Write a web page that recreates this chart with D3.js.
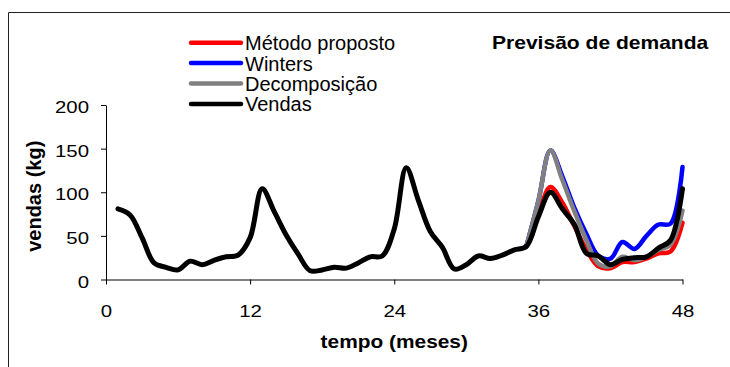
<!DOCTYPE html>
<html>
<head>
<meta charset="utf-8">
<script src="https://cdn.jsdelivr.net/npm/d3@7"></script>
<style>
  html, body { margin: 0; padding: 0; background: #fff; }
  svg { display: block; }
  text { font-family: "Liberation Sans", Arial, sans-serif; fill: #000; }
</style>
</head>
<body>
<svg id="chart" width="730" height="367"></svg>
<script>
// Monthly sales (kg) for months 1..48
const months = d3.range(1, 49);
const vendas = [81, 74, 48, 19, 14, 11, 21, 17, 22, 26, 28, 48, 104, 78, 51, 29,
                10, 11, 14, 13, 19, 26, 27, 58, 128, 91, 55, 37, 12, 17, 27, 24,
                28, 34, 38, 72, 100, 81, 63, 30, 27, 17, 23, 25, 26, 36, 45, 104];

// Forecasts over the last stretch (months 35..48)
const forecastMonths = d3.range(35, 49);
const metodoProposto = [38, 75, 106, 88, 61, 34, 15, 13, 20, 20, 24, 30, 32, 65];
const winters        = [38, 90, 148, 118, 82, 52, 27, 24, 43, 35, 50, 63, 64, 129];
const decomposicao   = [38, 90, 148, 114, 78, 45, 18, 15, 26, 22, 26, 34, 40, 79];

const xTicks = [0, 12, 24, 36, 48];
const yTicks = [0, 50, 100, 150, 200];

const seriesNames = ["Método proposto", "Winters", "Decomposição", "Vendas"];
const seriesColors = ["#ff0000", "#0000ff", "#808080", "#000000"];

const svg = d3.select("#chart");

// outer frame (left and top edges visible)
svg.append("path")
  .attr("d", "M8.5,380 V12.5 H740")
  .attr("fill", "none")
  .attr("stroke", "#222")
  .attr("stroke-width", 1);

const x = d3.scaleLinear().domain([0, 48]).range([106, 682.5]);
const y = d3.scaleLinear().domain([0, 200]).range([279.5, 105]);

// axes (tick labels drawn slightly widened)
const tickFont = 17, tickStretch = 1.2;
const yAxis = d3.axisLeft(y).tickValues(yTicks).tickSize(5).tickSizeOuter(0);
const xAxis = d3.axisBottom(x).tickValues(xTicks).tickSize(5).tickSizeOuter(0);

const gy = svg.append("g").attr("transform", `translate(${x(0)},0)`).call(yAxis);
const gx = svg.append("g").attr("transform", `translate(0,${y(0)})`).call(xAxis);
[gx, gy].forEach(g => {
  g.select(".domain").attr("stroke", "#000");
  g.selectAll(".tick line").attr("stroke", "#000");
  g.selectAll(".tick text")
    .attr("font-family", "Liberation Sans, Arial, sans-serif")
    .attr("font-size", tickFont)
    .attr("fill", "#000")
    .attr("x", 0)
    .attr("y", 0);
});
gy.selectAll(".tick text")
  .attr("dy", null)
  .attr("transform", `translate(-17,7.5) scale(${tickStretch},1)`);
gx.selectAll(".tick text")
  .attr("dy", null)
  .attr("transform", `translate(0,37) scale(${tickStretch},1)`);

// series lines
const line = d3.line()
  .x(d => x(d[0]))
  .y(d => y(d[1]))
  .curve(d3.curveCatmullRom.alpha(0.5));

const seriesData = [
  forecastMonths.map((m, i) => [m, metodoProposto[i]]),
  forecastMonths.map((m, i) => [m, winters[i]]),
  forecastMonths.map((m, i) => [m, decomposicao[i]]),
  months.map((m, i) => [m, vendas[i]])
];
const widths = [4.5, 4.5, 4.5, 5];

seriesData.forEach((data, i) => {
  svg.append("path")
    .datum(data)
    .attr("d", line)
    .attr("fill", "none")
    .attr("stroke", seriesColors[i])
    .attr("stroke-width", widths[i])
    .attr("stroke-linejoin", "round")
    .attr("stroke-linecap", "round");
});

// legend
const legend = svg.append("g");
seriesNames.forEach((name, i) => {
  const cy = 42.7 + i * 20.4;
  legend.append("line")
    .attr("x1", 191).attr("x2", 241)
    .attr("y1", cy).attr("y2", cy)
    .attr("stroke", seriesColors[i])
    .attr("stroke-width", 4.5)
    .attr("stroke-linecap", "round");
  legend.append("text")
    .attr("x", 245)
    .attr("y", cy + 7.5)
    .attr("font-size", 20)
    .text(name);
});

// title
svg.append("text")
  .attr("transform", "translate(492,48.5) scale(1.12,1)")
  .attr("font-size", 18.8)
  .attr("font-weight", "bold")
  .text("Previsão de demanda");

// axis titles
svg.append("text")
  .attr("transform", `translate(${(x(0) + x(48)) / 2},348) scale(1.16,1)`)
  .attr("text-anchor", "middle")
  .attr("font-size", 18)
  .attr("font-weight", "bold")
  .text("tempo (meses)");

svg.append("text")
  .attr("transform", `translate(41,${(y(0) + y(200)) / 2 + 4}) rotate(-90)`)
  .attr("text-anchor", "middle")
  .attr("font-size", 20)
  .attr("font-weight", "bold")
  .text("vendas (kg)");
</script>
</body>
</html>
